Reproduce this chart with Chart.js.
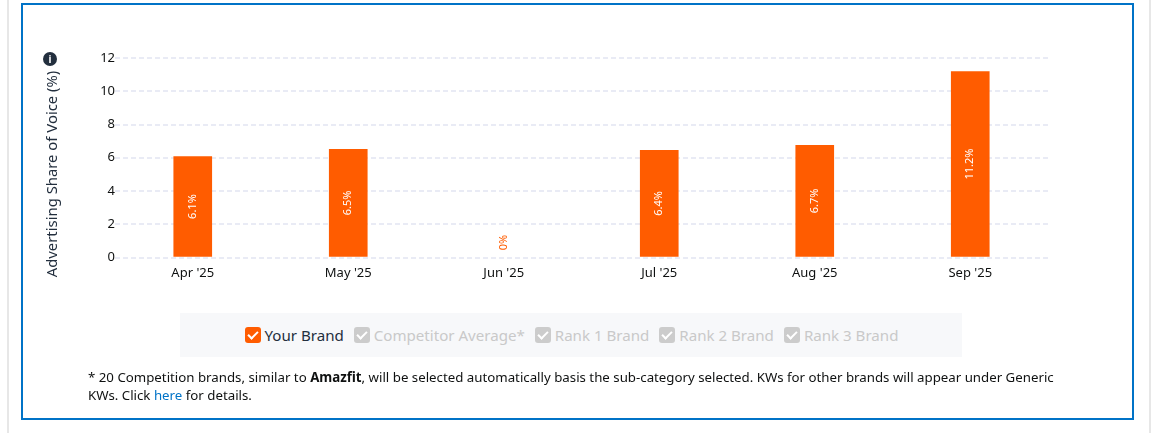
<!DOCTYPE html>
<html>
<head>
<meta charset="utf-8">
<title>Advertising Share of Voice</title>
<script src="https://cdn.jsdelivr.net/npm/chart.js@4/dist/chart.umd.min.js"></script>
<style>
    html, body { margin: 0; padding: 0; background: #fff; }
    body { width: 1152px; height: 433px; position: relative; overflow: hidden; font-family: "Noto Sans", sans-serif; color: #0f1111; }
    .outer { position: absolute; left: 7px; top: -10px; width: 1140px; height: 460px; border-left: 2px solid #e7e7e7; border-right: 2px solid #e7e7e7; }
    .panel { position: absolute; left: 21px; top: 3px; width: 1109px; height: 413px; border: 2px solid #0073c7; }
    #salesChart { position: absolute; left: 0; top: 0; }
    .yTitle { position: absolute; left: 51px; top: 173.5px; transform: translate(-50%, -50%) rotate(-90deg); white-space: nowrap; font-size: 14.85px; color: #232f3e; }
    .info { position: absolute; left: 43px; top: 52px; width: 14px; height: 14px; border-radius: 50%; background: #232f3e; color: #fff; font: bold 10px/14px "Noto Sans", sans-serif; text-align: center; }
    .legendBox { position: absolute; left: 180px; top: 313px; width: 782px; height: 44px; background: #f7f8fa; display: flex; justify-content: center; align-items: center; font-size: 15.1px; padding-left: 1px; box-sizing: border-box; }
    .legendItem { display: flex; align-items: center; margin: 0 5px; color: #c9c9c9; }
    .legendItem.on { color: #232f3e; }
    .box { width: 16px; height: 16px; border-radius: 3px; background: #cccccc; margin-right: 4px; position: relative; }
    .on .box { background: #ff5c00; }
    .box:after { content: ""; position: absolute; left: 5px; top: 2px; width: 4px; height: 8px; border: solid #fff; border-width: 0 2px 2px 0; transform: rotate(45deg); }
    .note { position: absolute; left: 88px; top: 368px; width: 970px; font-size: 13.27px; line-height: 18px; color: #0f1111; }
    .note a { color: #0073c7; text-decoration: none; }
</style>
</head>
<body>
<div class="outer"></div>
<div class="panel"></div>
<canvas id="salesChart" width="1152" height="433"></canvas>
<div class="yTitle">Advertising Share of Voice (%)</div>
<div class="info">i</div>
<div class="legendBox" id="legendBox"></div>
<div class="note">* 20 Competition brands, similar to <b>Amazfit</b>, will be selected automatically basis the sub-category selected. KWs for other brands will appear under Generic KWs. Click <a href="#">here</a> for details.</div>
<script>
const months = ["Apr '25", "May '25", "Jun '25", "Jul '25", "Aug '25", "Sep '25"];
const shareOfVoice = [6.07, 6.5, 0, 6.45, 6.75, 11.18];
const barLabels = ['6.1%', '6.5%', '0%', '6.4%', '6.7%', '11.2%'];
const yTicks = [0, 2, 4, 6, 8, 10, 12];
const legendNames = ['Your Brand', 'Competitor Average*', 'Rank 1 Brand', 'Rank 2 Brand', 'Rank 3 Brand'];

const legendBox = document.getElementById('legendBox');
legendNames.forEach(function (name, i) {
    const item = document.createElement('div');
    item.className = i === 0 ? 'legendItem on' : 'legendItem';
    item.innerHTML = '<span class="box"></span>';
    item.appendChild(document.createTextNode(name));
    legendBox.appendChild(item);
});

// rotated value labels, inside the bar or just above the baseline when zero
const barLabelPlugin = {
    id: 'barLabelPlugin',
    afterDatasetsDraw: function (chart) {
        const ctx = chart.ctx;
        chart.getDatasetMeta(0).data.forEach(function (bar, i) {
            const zero = shareOfVoice[i] === 0;
            const y = zero ? bar.base - 15 : (bar.y + bar.base) / 2;
            ctx.save();
            ctx.translate(bar.x, y);
            ctx.rotate(-Math.PI / 2);
            ctx.font = '11px "Noto Sans"';
            ctx.textAlign = 'center';
            ctx.textBaseline = 'middle';
            ctx.fillStyle = zero ? '#ff5c00' : '#ffffff';
            ctx.fillText(barLabels[i], 0, 0);
            ctx.restore();
        });
    }
};

new Chart(document.getElementById('salesChart').getContext('2d'), {
    type: 'bar',
    data: {
        labels: months,
        datasets: [{
            label: legendNames[0],
            data: shareOfVoice,
            backgroundColor: function (c) { return c.raw === 0 ? 'transparent' : '#ff5c00'; },
            barThickness: 38
        }]
    },
    options: {
        responsive: false,
        animation: false,
        layout: { padding: { top: 58, right: 104, bottom: 0, left: 0 } },
        plugins: { legend: { display: false }, tooltip: { enabled: false } },
        scales: {
            x: {
                grid: { display: false },
                border: { display: false },
                ticks: { color: '#0f1111', font: { family: 'Noto Sans', size: 13 }, padding: 0, maxRotation: 0 },
                afterFit: function (scale) { scale.height = 175.5; }
            },
            y: {
                min: 0,
                max: 12,
                afterBuildTicks: function (scale) { scale.ticks = yTicks.map(function (v) { return { value: v }; }); },
                grid: { color: '#e9ebf5', lineWidth: 2, drawTicks: false },
                border: { display: false, dash: [5, 3] },
                ticks: { color: '#0f1111', font: { family: 'Noto Sans', size: 13 }, padding: 0 },
                afterFit: function (scale) { scale.width = 115; }
            }
        }
    },
    plugins: [barLabelPlugin]
});
</script>
</body>
</html>
